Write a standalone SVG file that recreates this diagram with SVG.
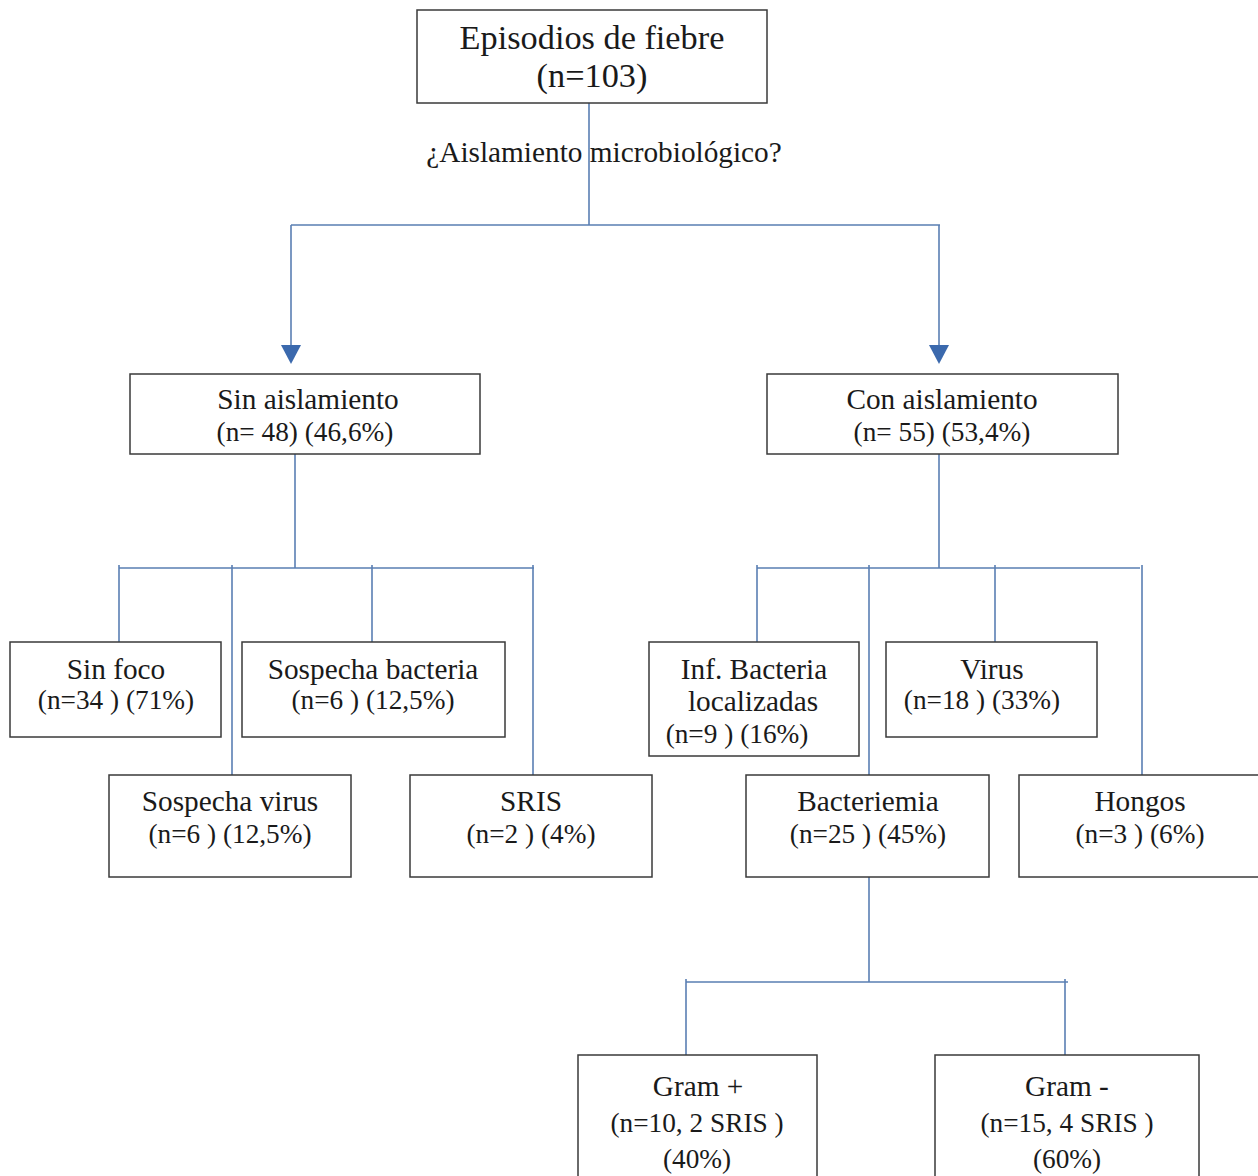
<svg xmlns="http://www.w3.org/2000/svg" width="1258" height="1176" viewBox="0 0 1258 1176">
<style>
.box{fill:#fff;stroke:#3a3a3a;stroke-width:1.5}
.t{font-family:"Liberation Serif","Times New Roman",serif;font-size:29.3px;fill:#1a1a1a;text-anchor:middle}
.n{font-size:27.3px}
.title{font-size:34.3px}
.lbl{font-size:29.3px}
.c{stroke:#5a7fb3;stroke-width:1.6;fill:none}
.ah{fill:#3b69ad}
</style>
<rect width="1258" height="1176" fill="#fff"/>
<g id="connectors">
<path class="c" d="M589 103V225M291 225H940M291 225V348M939 225V348"/>
<polygon class="ah" points="281,345 301,345 291,364"/>
<polygon class="ah" points="929,345 949,345 939,364"/>
<path class="c" d="M295 454V568M119 568H534M119 565V642M232 565V775M372 565V642M533 565V775"/>
<path class="c" d="M939 454V568M757 568H1140M757 565V642M869 565V775M995 565V642M1142 565V775"/>
<path class="c" d="M869 877V982M686 982H1068M686 979V1055M1065 979V1055"/>
</g>
<text class="t lbl" x="604" y="162">¿Aislamiento microbiológico?</text>
<g id="root"><rect class="box" x="417" y="10" width="350" height="93"/><text class="t title" x="592" y="49">Episodios de fiebre</text><text class="t title" x="592" y="87">(n=103)</text></g>
<g id="sin-aislamiento"><rect class="box" x="130" y="374" width="350" height="80"/><text class="t" x="308" y="409">Sin aislamiento</text><text class="t n" x="305" y="441">(n= 48) (46,6%)</text></g>
<g id="con-aislamiento"><rect class="box" x="767" y="374" width="351" height="80"/><text class="t" x="942" y="409">Con aislamiento</text><text class="t n" x="942" y="441">(n= 55) (53,4%)</text></g>
<g id="sin-foco"><rect class="box" x="10" y="642" width="211" height="95"/><text class="t" x="116" y="679">Sin foco</text><text class="t n" x="116" y="709">(n=34 ) (71%)</text></g>
<g id="sospecha-bacteria"><rect class="box" x="242" y="642" width="263" height="95"/><text class="t" x="373" y="679">Sospecha bacteria</text><text class="t n" x="373" y="709">(n=6 ) (12,5%)</text></g>
<g id="sospecha-virus"><rect class="box" x="109" y="775" width="242" height="102"/><text class="t" x="230" y="811">Sospecha virus</text><text class="t n" x="230" y="843">(n=6 ) (12,5%)</text></g>
<g id="sris"><rect class="box" x="410" y="775" width="242" height="102"/><text class="t" x="531" y="811">SRIS</text><text class="t n" x="531" y="843">(n=2 ) (4%)</text></g>
<g id="inf-bacteria"><rect class="box" x="649" y="642" width="210" height="114"/><text class="t" x="754" y="679">Inf. Bacteria</text><text class="t" x="753" y="711">localizadas</text><text class="t n" x="737" y="743">(n=9 ) (16%)</text></g>
<g id="virus"><rect class="box" x="886" y="642" width="211" height="95"/><text class="t" x="992" y="679">Virus</text><text class="t n" x="982" y="709">(n=18 ) (33%)</text></g>
<g id="bacteriemia"><rect class="box" x="746" y="775" width="243" height="102"/><text class="t" x="868" y="811">Bacteriemia</text><text class="t n" x="868" y="843">(n=25 ) (45%)</text></g>
<g id="hongos"><rect class="box" x="1019" y="775" width="260" height="102"/><text class="t" x="1140" y="811">Hongos</text><text class="t n" x="1140" y="843">(n=3 ) (6%)</text></g>
<g id="gram-pos"><rect class="box" x="578" y="1055" width="239" height="140"/><text class="t" x="698" y="1096">Gram +</text><text class="t n" x="697" y="1132">(n=10, 2 SRIS )</text><text class="t n" x="697" y="1168">(40%)</text></g>
<g id="gram-neg"><rect class="box" x="935" y="1055" width="264" height="140"/><text class="t" x="1067" y="1096">Gram -</text><text class="t n" x="1067" y="1132">(n=15, 4 SRIS )</text><text class="t n" x="1067" y="1168">(60%)</text></g>
</svg>
